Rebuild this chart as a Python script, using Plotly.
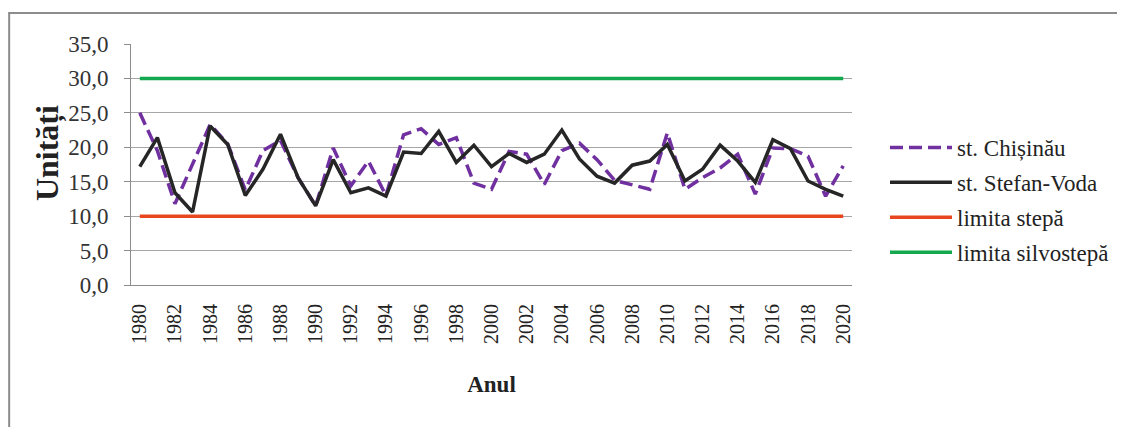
import plotly.graph_objects as go

years = list(range(1980, 2021))

chisinau = [25.0, 19.5, 11.8, 17.5, 23.3, 20.5, 13.8, 19.5, 21.0, 15.6,
            11.5, 19.9, 14.4, 18.0, 13.0, 21.8, 22.7, 20.4, 21.4, 14.8,
            13.9, 19.4, 19.0, 14.6, 19.5, 20.6, 18.2, 15.2, 14.5, 13.9,
            22.1, 13.9, 15.6, 17.0, 19.0, 13.2, 19.9, 19.8, 18.7, 12.9,
            17.3]

stefan_voda = [17.2, 21.4, 13.4, 10.6, 23.1, 20.4, 13.0, 16.8, 21.9, 15.6,
               11.5, 18.2, 13.4, 14.1, 12.9, 19.3, 19.1, 22.3, 17.8, 20.3,
               17.2, 19.1, 17.8, 19.0, 22.5, 18.3, 15.8, 14.8, 17.4, 18.0,
               20.4, 15.1, 16.8, 20.3, 18.0, 14.9, 21.1, 19.8, 15.1, 13.9,
               12.9]

steppe_limit_value = 10.0
forest_steppe_limit_value = 30.0
steppe_limit = [steppe_limit_value] * len(years)
forest_steppe_limit = [forest_steppe_limit_value] * len(years)

names = ["st. Chișinău", "st. Stefan-Voda", "limita stepă", "limita silvostepă"]
y_title = "Unități"
x_title = "Anul"

FONT = "Liberation Serif, Times New Roman, serif"

fig = go.Figure()
fig.add_trace(go.Scatter(x=years, y=chisinau, mode="lines", name=names[0],
                         legendgroup="a",
                         line=dict(color="#7030A0", width=3.5, dash="13px,6px")))
fig.add_trace(go.Scatter(x=years, y=stefan_voda, mode="lines", name=names[1],
                         legendgroup="b",
                         line=dict(color="#262626", width=3.5)))
fig.add_trace(go.Scatter(x=years, y=steppe_limit, mode="lines", name=names[2],
                         legendgroup="c",
                         line=dict(color="#E8461E", width=3.5)))
fig.add_trace(go.Scatter(x=years, y=forest_steppe_limit, mode="lines", name=names[3],
                         legendgroup="d",
                         line=dict(color="#14A84E", width=3.5)))

# page body margin offset (8px) compensated: reference pixel -> figure pixel
OFF = 8
W, H = 1125 - OFF, 427 - OFF
L, R, T, B = 131 - OFF, 853 - OFF, 44 - OFF, 285 - OFF
pw, ph = R - L, B - T

def px(x):
    return (x - OFF - L) / pw

def py(y):
    return (B - (y - OFF)) / ph

fig.update_layout(
    width=W, height=H,
    margin=dict(l=L, r=W - R, t=T, b=H - B, pad=0),
    paper_bgcolor="white", plot_bgcolor="white",
    separators=",.",
    font=dict(family=FONT, size=20, color="#222"),
    showlegend=True,
    legend=dict(x=px(885), y=py(126), xanchor="left", yanchor="top",
                font=dict(family=FONT, size=23, color="#222"),
                itemwidth=62,
                tracegroupgap=2, bgcolor="rgba(0,0,0,0)"),
    xaxis=dict(range=[1979.5, 2020.5], tickmode="linear", tick0=1980, dtick=2,
               tickangle=-90, showgrid=False, showline=True,
               linecolor="#8C8C8C", linewidth=1, ticks="",
               ticklabelstandoff=10,
               tickfont=dict(family=FONT, size=20, color="#222"),
               title=dict(text="<b>" + x_title + "</b>",
                          font=dict(family=FONT, size=23, color="#222"),
                          standoff=32),
               zeroline=False, fixedrange=True),
    yaxis=dict(range=[0, 35], tickmode="linear", tick0=0, dtick=5, tickformat=".1f",
               showgrid=True, gridcolor="#A6A6A6", gridwidth=1,
               showline=True, linecolor="#8C8C8C", linewidth=1,
               ticks="outside", ticklen=6, tickcolor="#8C8C8C",
               ticklabelstandoff=11,
               tickfont=dict(family=FONT, size=23, color="#333"),
               zeroline=False, fixedrange=True),
    annotations=[
        dict(text="<b>" + y_title + "</b>", xref="paper", yref="paper",
             x=px(47), y=py(153), xanchor="center", yanchor="middle",
             textangle=-90, showarrow=False,
             font=dict(family=FONT, size=32, color="#222")),
    ],
    shapes=[
        dict(type="line", xref="paper", yref="paper", x0=px(8), x1=px(1125),
             y0=py(13), y1=py(13), line=dict(color="#8C8C8C", width=2)),
        dict(type="line", xref="paper", yref="paper", x0=px(9), x1=px(9),
             y0=py(13), y1=py(427), line=dict(color="#8C8C8C", width=2)),
    ],
)

fig.write_html("out.html")
